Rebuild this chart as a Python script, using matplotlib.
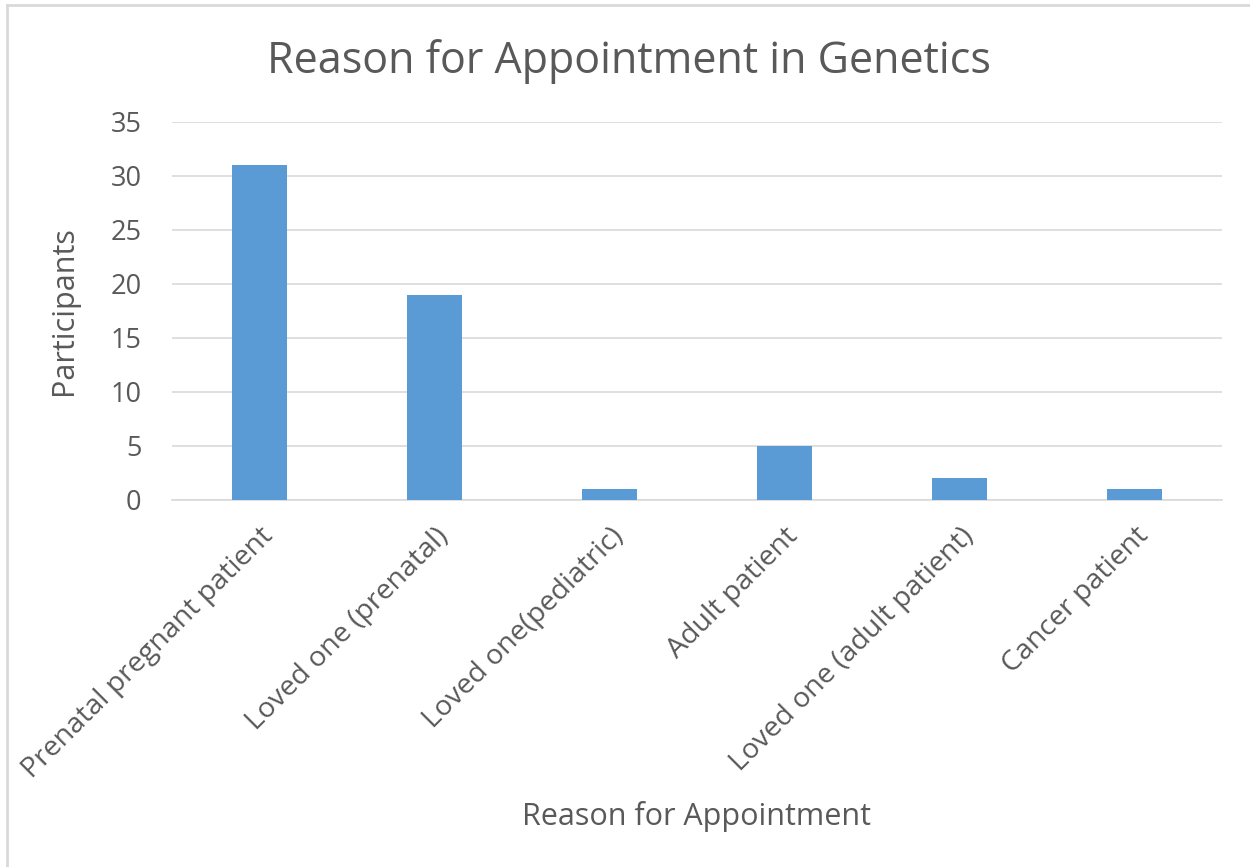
import matplotlib.pyplot as plt
from matplotlib.lines import Line2D

categories = ["Prenatal pregnant patient", "Loved one (prenatal)", "Loved one(pediatric)",
              "Adult patient", "Loved one (adult patient)", "Cancer patient"]
participants = [31, 19, 1, 5, 2, 1]
yticks = [0, 5, 10, 15, 20, 25, 30, 35]

plt.rcParams['font.family'] = ['Open Sans', 'DejaVu Sans']
text_col = '#595959'

fig = plt.figure(figsize=(12.5, 8.67), dpi=100)
ax = fig.add_axes([0.1376, 0.4233, 0.84, 0.436])

x = range(len(categories))
ax.bar(x, participants, width=0.314, color='#5B9BD5', zorder=3)

ax.set_xlim(-0.5, len(categories) - 0.5)
ax.set_ylim(0, 35)
ax.set_yticks(yticks)
ax.set_xticks(list(x))
ax.set_xticklabels(categories, rotation=45, ha='right', rotation_mode='anchor')
ax.tick_params(axis='both', length=0, colors=text_col)
ax.tick_params(axis='x', pad=16, labelsize=20.5)
ax.tick_params(axis='y', pad=22, labelsize=19.5)

ax.grid(axis='y', color='#d9d9d9', linewidth=1.2, zorder=0)
for s in ['top', 'right', 'left']:
    ax.spines[s].set_visible(False)
ax.spines['bottom'].set_color('#d9d9d9')
ax.spines['bottom'].set_linewidth(1.2)

fig.text(629 / 1250, 1 - 62 / 867, "Reason for Appointment in Genetics",
         fontsize=31, color=text_col, ha='center', va='center')
ax.set_xlabel("Reason for Appointment", fontsize=22, color=text_col)
ax.xaxis.set_label_coords(0.5, -0.795)
ax.set_ylabel("Participants", fontsize=22, color=text_col)
ax.yaxis.set_label_coords(-0.089, 0.5)

# chart frame
fig.add_artist(Line2D([7 / 1250, 7 / 1250], [0, 1 - 5 / 867], color='#d9d9d9', lw=2))
fig.add_artist(Line2D([7 / 1250, 1], [1 - 5 / 867, 1 - 5 / 867], color='#d9d9d9', lw=2))

fig.savefig("out.png", dpi=100)
